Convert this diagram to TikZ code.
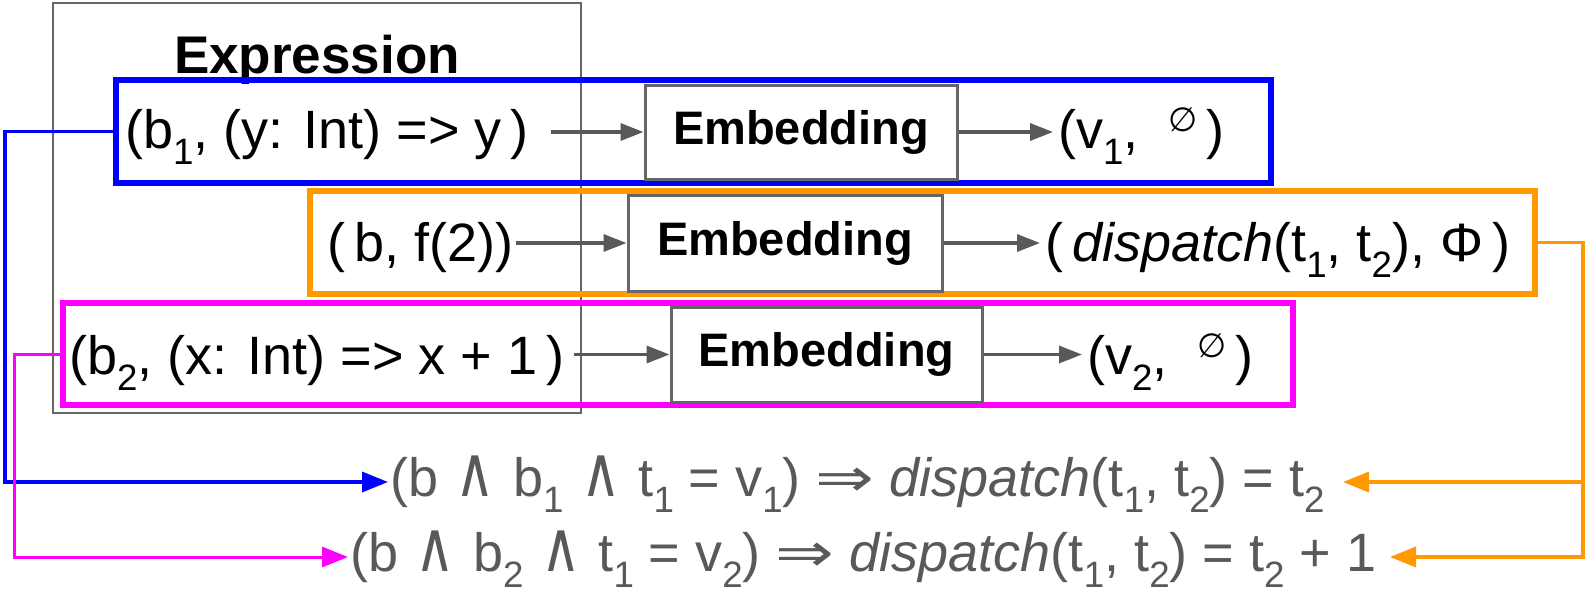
\documentclass[tikz,border=0pt]{standalone}
\usepackage{fontspec}
\usepackage{graphicx}
\setmainfont{Liberation Sans}
\newfontfamily\symfont{DejaVu Sans}
\usetikzlibrary{arrows.meta}

\definecolor{inkgray}{HTML}{595959}
\definecolor{framegray}{HTML}{666666}
\definecolor{cblue}{HTML}{0000FF}
\definecolor{corange}{HTML}{FF9900}
\definecolor{cmagenta}{HTML}{FF00FF}

% subscript in the text font, lowered
\newcommand\lo[1]{\raisebox{-0.3em}{\scalebox{0.68}{#1}}}
% small raised empty-set sign
\newcommand\noneset{\raisebox{0.3em}{\scalebox{0.62}{\symfont ∅}}}
% tall logical and, wide implication arrow
\newcommand\andop{\hspace{0.05em}{\symfont\scalebox{1}[1.3]{∧}}\hspace{0.05em}}
\newcommand\implop{{\symfont\scalebox{1.3}[1]{⇒}}}

\begin{document}
\begin{tikzpicture}[x=1pt,y=-1pt,
  bigtext/.style={font=\fontsize{54}{62}\selectfont},
  txt/.style={bigtext, inner sep=0pt},
  outtxt/.style={bigtext, inner xsep=5pt, inner ysep=0pt},
  exprbox/.style={draw=framegray, line width=1.6pt, rectangle, inner sep=0pt},
  frame/.style={draw, rectangle, line width=6pt, inner sep=0pt},
  embbox/.style={draw=framegray, line width=3pt, rectangle, inner sep=0pt,
    font=\fontsize{47}{56}\selectfont\bfseries},
  flow/.style={draw=inkgray, line width=3.5pt, -{Triangle[length=23pt,width=17pt]}},
  link/.style={line width=3.5pt, -{Triangle[length=26pt,width=20pt]}},
  rule/.style={txt, text=inkgray, anchor=base west}
]
\useasboundingbox (0,0) rectangle (1588,597);

% the expression column
\node[exprbox, minimum width=528pt, minimum height=410pt] (expr) at (317,208) {};
\node[anchor=base, inner sep=0pt, font=\fontsize{53}{60}\selectfont\bfseries] (exprlabel) at (317,73) {Expression};

% row frames
\node[frame, draw=cblue,    minimum width=1155pt, minimum height=103pt] (row1) at (693.5,131.5) {};
\node[frame, draw=corange,  minimum width=1225pt, minimum height=103pt] (row2) at (922.5,242.5) {};
\node[frame, draw=cmagenta, minimum width=1230pt, minimum height=102pt] (row3) at (678,354) {};

% row 1
\node[txt, anchor=base west] (in1) at (125,148) {(b\lo{1}, (y: Int) => y\,)};
\node[embbox, minimum width=312pt, minimum height=94pt] (emb1) at (801,132) {Embedding};
\node[outtxt, anchor=base west] (out1) at (1053,148) {(v\lo{1},\ \ \noneset\,)};
\draw[flow] ([xshift=-93pt]emb1.west) -- (emb1.west);
\draw[flow] (emb1.east) -- (out1.west |- emb1.east);

% row 2
\node[txt, anchor=base west] (in2) at (327,261) {(\,b, f(2))};
\node[embbox, minimum width=314pt, minimum height=96pt] (emb2) at (785,243) {Embedding};
\node[outtxt, anchor=base west] (out2) at (1040,261) {(\,\textit{dispatch}(t\lo{1}, t\lo{2}), Φ\,)};
\draw[flow] ([xshift=-111pt]emb2.west) -- (emb2.west);
\draw[flow] (emb2.east) -- (out2.west |- emb2.east);

% row 3
\node[txt, anchor=base west] (in3) at (69,374) {(b\lo{2}, (x: Int) => x + 1\,)};
\node[embbox, minimum width=311pt, minimum height=95pt] (emb3) at (826.5,354.5) {Embedding};
\node[outtxt, anchor=base west] (out3) at (1082,374) {(v\lo{2},\ \ \noneset\,)};
\draw[flow] ([xshift=-96pt]emb3.west) -- (emb3.west);
\draw[flow] (emb3.east) -- (out3.west |- emb3.east);

% derived rules
\node[rule] (f1) at (390,496) {(b \andop\ b\lo{1} \andop\ t\lo{1} = v\lo{1}) \implop\ \textit{dispatch}(t\lo{1}, t\lo{2}) = t\lo{2}};
\node[rule] (f2) at (350,571) {(b \andop\ b\lo{2} \andop\ t\lo{1} = v\lo{2}) \implop\ \textit{dispatch}(t\lo{1}, t\lo{2}) = t\lo{2} + 1};

% connector bends and ends
\coordinate (bbend) at (5,482);
\coordinate (bend1) at (388,482);
\coordinate (mbend) at (14,557);
\coordinate (mend2) at (348,557);
\coordinate (obend1) at (1583,482);
\coordinate (obend2) at (1583,557);
\coordinate (oend1) at (1343,482);
\coordinate (oend2) at (1390,557);

\draw[link, cblue] (row1.west) -| (bbend) -- (bend1);
\draw[link, cmagenta, line width=3pt] (row3.west) -| (mbend) -- (mend2);
\draw[link, corange] (row2.east) -| (obend2) -- (oend2);
\draw[link, corange] (obend1) -- (oend1);
\end{tikzpicture}
\end{document}
